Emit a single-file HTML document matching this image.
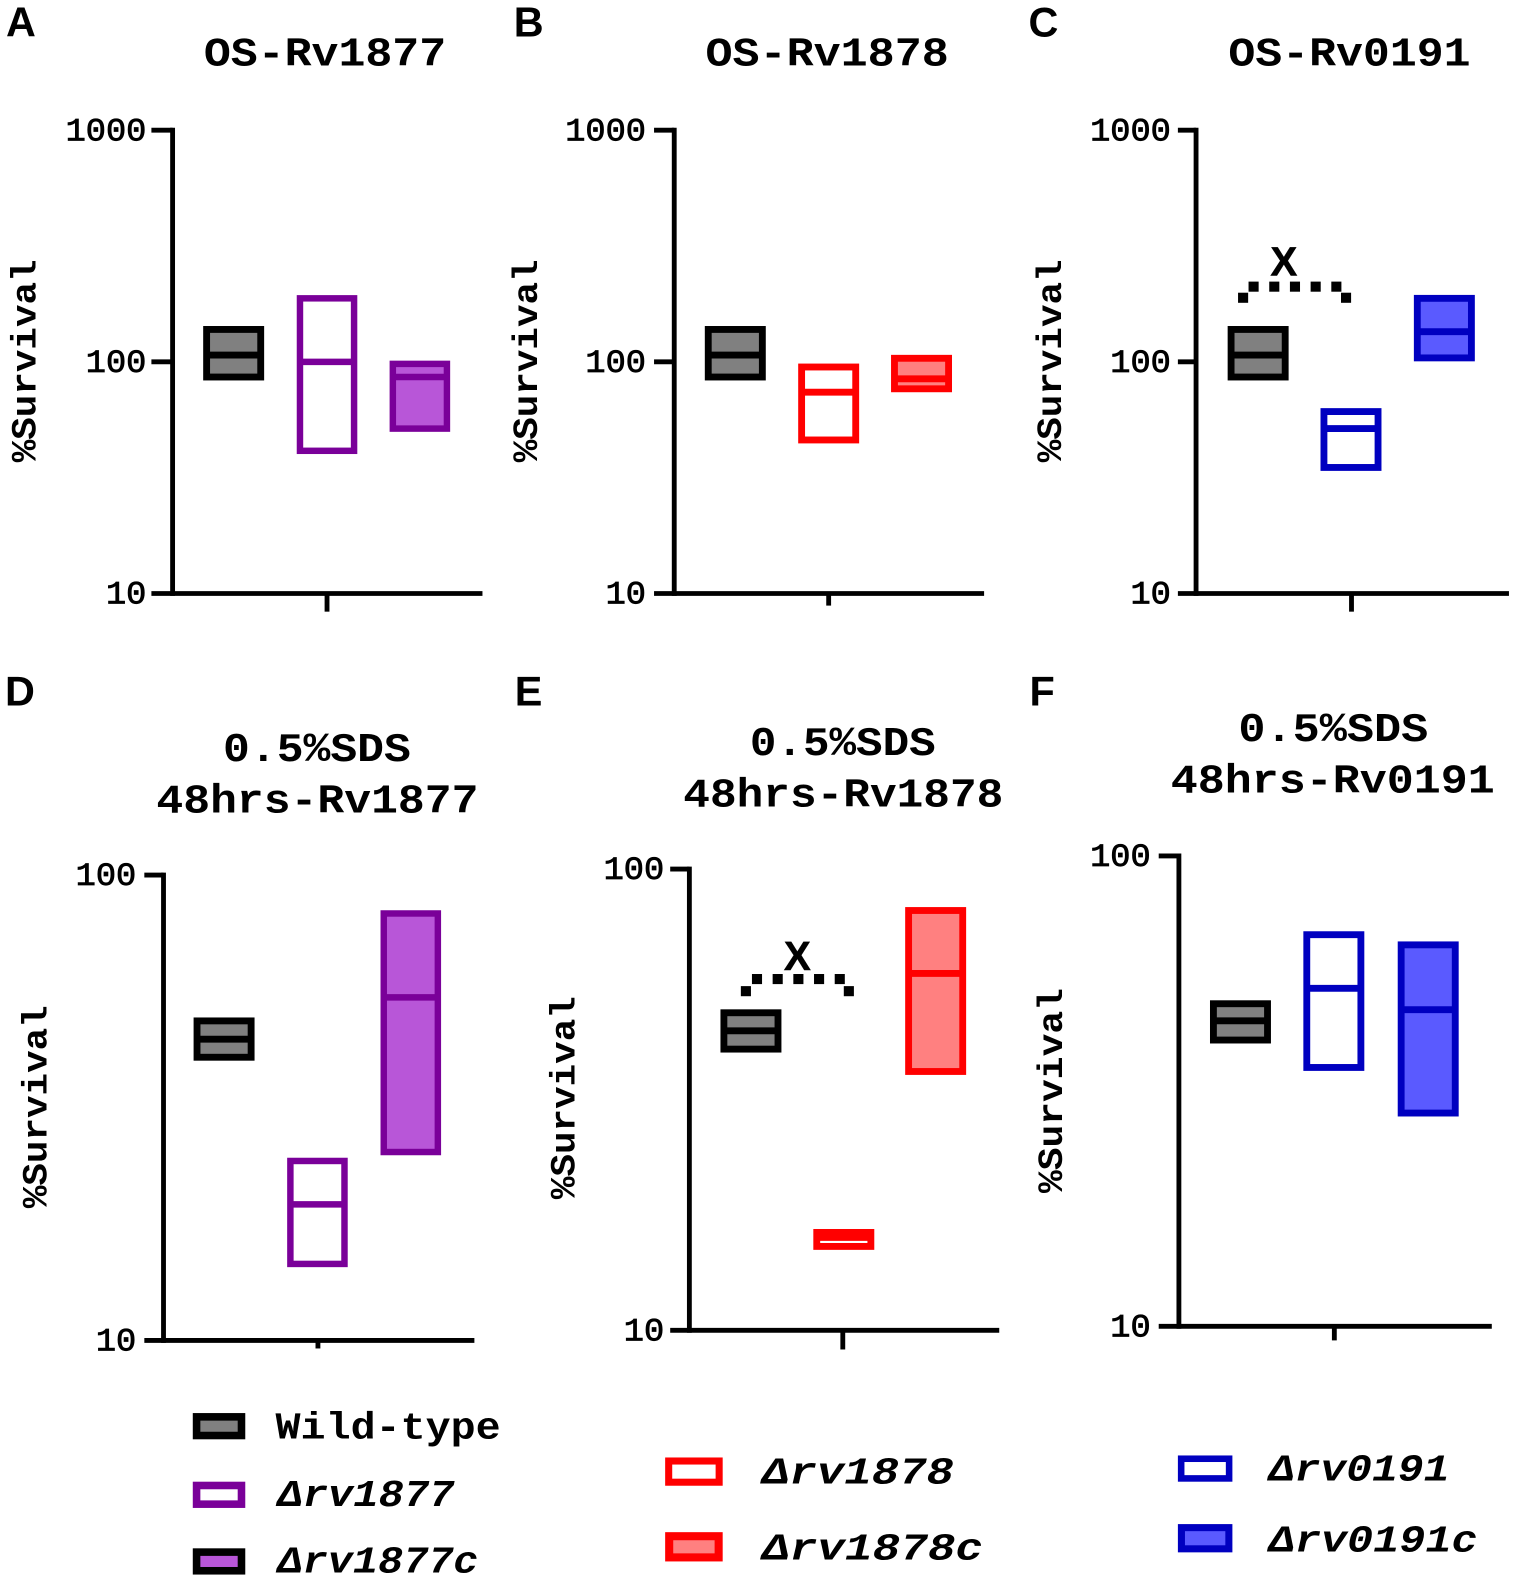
<!DOCTYPE html>
<html lang="en">
<head>
<meta charset="utf-8">
<title>Percent survival panels</title>
<style>
html,body{margin:0;padding:0;background:#fff;}
svg{display:block;}
.title{font-family:"Liberation Mono",monospace;font-weight:bold;font-size:40px;fill:#000;}
.tick{font-family:"Liberation Mono",monospace;font-weight:normal;font-size:32px;fill:#000;stroke:#000;stroke-width:0.8px;}
.ylab{font-family:"Liberation Mono",monospace;font-weight:bold;font-size:35px;fill:#000;}
.letter{font-family:"Liberation Sans",sans-serif;font-weight:bold;font-size:41px;fill:#000;}
.leg{font-family:"Liberation Mono",monospace;font-weight:bold;font-size:38px;fill:#000;}
.legi{font-family:"Liberation Mono",monospace;font-weight:bold;font-style:italic;font-size:38px;fill:#000;}
.mark{font-family:"Liberation Sans",sans-serif;font-weight:bold;font-size:40px;fill:#000;stroke:#000;stroke-width:0.5px;}
</style>
</head>
<body>
<svg id="figure" xmlns="http://www.w3.org/2000/svg" width="1514" height="1583" viewBox="0 0 1500 1568.36">
  <rect x="0" y="0" width="1500" height="1569" fill="#fff"/>

  <text class="letter" x="6" y="36">A</text>
  <text class="letter" x="509" y="36">B</text>
  <text class="letter" x="1019" y="36">C</text>
  <text class="letter" x="5" y="699">D</text>
  <text class="letter" x="510" y="699">E</text>
  <text class="letter" x="1020" y="699">F</text>

  <text class="title" x="202" y="65" textLength="240" lengthAdjust="spacingAndGlyphs">OS-Rv1877</text>
  <text class="title" x="699" y="65" textLength="241" lengthAdjust="spacingAndGlyphs">OS-Rv1878</text>
  <text class="title" x="1217" y="65" textLength="240" lengthAdjust="spacingAndGlyphs">OS-Rv0191</text>
  <text class="title" x="221" y="754" textLength="186" lengthAdjust="spacingAndGlyphs">0.5%SDS</text>
  <text class="title" x="155" y="805" textLength="319" lengthAdjust="spacingAndGlyphs">48hrs-Rv1877</text>
  <text class="title" x="743" y="748" textLength="184" lengthAdjust="spacingAndGlyphs">0.5%SDS</text>
  <text class="title" x="677" y="799" textLength="317" lengthAdjust="spacingAndGlyphs">48hrs-Rv1878</text>
  <text class="title" x="1227" y="734" textLength="188" lengthAdjust="spacingAndGlyphs">0.5%SDS</text>
  <text class="title" x="1160" y="785" textLength="321" lengthAdjust="spacingAndGlyphs">48hrs-Rv0191</text>

  <text class="ylab" transform="translate(35,458) rotate(-90)" textLength="201" lengthAdjust="spacingAndGlyphs">%Survival</text>
  <text class="ylab" transform="translate(532,458) rotate(-90)" textLength="201" lengthAdjust="spacingAndGlyphs">%Survival</text>
  <text class="ylab" transform="translate(1051,458) rotate(-90)" textLength="201" lengthAdjust="spacingAndGlyphs">%Survival</text>
  <text class="ylab" transform="translate(46,1197) rotate(-90)" textLength="201" lengthAdjust="spacingAndGlyphs">%Survival</text>
  <text class="ylab" transform="translate(569,1188) rotate(-90)" textLength="201" lengthAdjust="spacingAndGlyphs">%Survival</text>
  <text class="ylab" transform="translate(1052,1182) rotate(-90)" textLength="203" lengthAdjust="spacingAndGlyphs">%Survival</text>

  <g id="panels"></g>

  <g>
    <rect x="194.75" y="1403.75" width="44.5" height="18.5" fill="#808080" stroke="#000" stroke-width="7.5"/>
    <text class="leg" x="273" y="1425" textLength="223" lengthAdjust="spacingAndGlyphs">Wild-type</text>
    <rect x="194.75" y="1471.75" width="44.5" height="18.5" fill="#fff" stroke="#7a0099" stroke-width="7.5"/>
    <text class="legi" x="275" y="1492" textLength="175" lengthAdjust="spacingAndGlyphs">Δrv1877</text>
    <rect x="194.75" y="1537.75" width="44.5" height="18.5" fill="#b856d8" stroke="#000" stroke-width="7.5"/>
    <text class="legi" x="275" y="1558" textLength="199" lengthAdjust="spacingAndGlyphs">Δrv1877c</text>

    <rect x="662.5" y="1447.5" width="50" height="21" fill="#fff" stroke="#ff0000" stroke-width="7"/>
    <text class="legi" x="755" y="1470" textLength="190" lengthAdjust="spacingAndGlyphs">Δrv1878</text>
    <rect x="663" y="1522" width="49" height="21" fill="#ff8080" stroke="#ff0000" stroke-width="8"/>
    <text class="legi" x="755" y="1545" textLength="219" lengthAdjust="spacingAndGlyphs">Δrv1878c</text>

    <rect x="1170.25" y="1445.25" width="47.5" height="19.5" fill="#fff" stroke="#0000c0" stroke-width="6.5"/>
    <text class="legi" x="1257" y="1467" textLength="179" lengthAdjust="spacingAndGlyphs">Δrv0191</text>
    <rect x="1170.5" y="1513.5" width="47" height="21" fill="#5a5aff" stroke="#0000c0" stroke-width="7"/>
    <text class="legi" x="1257" y="1537" textLength="207" lengthAdjust="spacingAndGlyphs">Δrv0191c</text>
  </g>
</svg>

<script>
// Tick labels
const ticksOS = [10, 100, 1000];
const ticksSDS = [10, 100];

// Panel A: OS-Rv1877
const categoriesA = ['Wild-type', 'rv1877', 'rv1877c'];
const highA = [138, 188, 98];
const medianA = [107, 100, 86];
const lowA = [86, 41.3, 51.5];

// Panel B: OS-Rv1878
const categoriesB = ['Wild-type', 'rv1878', 'rv1878c'];
const highB = [138, 95, 103.6];
const medianB = [107, 74, 84.5];
const lowB = [86, 46, 76.5];

// Panel C: OS-Rv0191
const categoriesC = ['Wild-type', 'rv0191', 'rv0191c'];
const highC = [138, 61, 188];
const medianC = [107, 51.5, 135];
const lowC = [86, 35, 104];

// Panel D: 0.5% SDS 48hrs-Rv1877
const categoriesD = ['Wild-type', 'rv1877', 'rv1877c'];
const highD = [48.6, 24.3, 82.7];
const medianD = [44.4, 19.6, 54.6];
const lowD = [40.6, 14.6, 25.4];

// Panel E: 0.5% SDS 48hrs-Rv1878
const categoriesE = ['Wild-type', 'rv1878', 'rv1878c'];
const highE = [48.8, 16.3, 81.3];
const medianE = [44.6, 15.9, 59.4];
const lowE = [40.7, 15.2, 36.4];

// Panel F: 0.5% SDS 48hrs-Rv0191
const categoriesF = ['Wild-type', 'rv0191', 'rv0191c'];
const highF = [48.5, 68, 64.7];
const medianF = [44.6, 52.3, 47.1];
const lowF = [40.6, 35.5, 28.4];

const PURPLE = { stroke: '#7a0099', fill: '#b856d8', sw: 6.4 };
const RED = { stroke: '#ff0000', fill: '#ff8080', sw: 6.8 };
const BLUE = { stroke: '#0000c0', fill: '#5a5aff', sw: 6.8 };

const panels = [
  { id: 'a', cats: categoriesA, hi: highA, med: medianA, lo: lowA, ticks: ticksOS, tone: PURPLE, labelR: 145,
    axisX: 171, tickL: 150, xEnd: 478, tickX: 324, tickB: 606, top: 129, bottom: 588, centers: [231.5, 324, 416] },
  { id: 'b', cats: categoriesB, hi: highB, med: medianB, lo: lowB, ticks: ticksOS, tone: RED, labelR: 640,
    axisX: 668, tickL: 648, xEnd: 975, tickX: 821, tickB: 600, top: 129, bottom: 588, centers: [728.5, 821, 913] },
  { id: 'c', cats: categoriesC, hi: highC, med: medianC, lo: lowC, ticks: ticksOS, tone: BLUE, labelR: 1160,
    axisX: 1185, tickL: 1167, xEnd: 1495, tickX: 1339, tickB: 606, top: 129, bottom: 588, centers: [1246.5, 1338.5, 1431],
    bracket: { edgeL: 1231.6, start: 1242, gap: 20.5, edgeR: 1333.6, hiY: 284, loY: 295, labelX: 1272, labelY: 273 } },
  { id: 'd', cats: categoriesD, hi: highD, med: medianD, lo: lowD, ticks: ticksSDS, tone: PURPLE, labelR: 135,
    axisX: 162, tickL: 143, xEnd: 470, tickX: 315, tickB: 1336, top: 867, bottom: 1328, centers: [222, 314.5, 407] },
  { id: 'e', cats: categoriesE, hi: highE, med: medianE, lo: lowE, ticks: ticksSDS, tone: RED, labelR: 658,
    axisX: 683, tickL: 664, xEnd: 990, tickX: 835, tickB: 1337, top: 861, bottom: 1318, centers: [744, 836, 927],
    bracket: { edgeL: 739, start: 750, gap: 20.5, edgeR: 841, hiY: 970, loY: 982, labelX: 790, labelY: 961 } },
  { id: 'f', cats: categoriesF, hi: highF, med: medianF, lo: lowF, ticks: ticksSDS, tone: BLUE, labelR: 1140,
    axisX: 1168, tickL: 1148, xEnd: 1478, tickX: 1322, tickB: 1328, top: 848, bottom: 1314, centers: [1229, 1321.5, 1415] }
];

const SVGNS = 'http://www.w3.org/2000/svg';
const root = document.getElementById('panels');

function make(tag, parent, attrs) {
  const el = document.createElementNS(SVGNS, tag);
  Object.keys(attrs).forEach(function (k) { el.setAttribute(k, attrs[k]); });
  parent.appendChild(el);
  return el;
}

function logScale(ticks, top, bottom) {
  const lo = Math.log10(ticks[0]);
  const hi = Math.log10(ticks[ticks.length - 1]);
  return function (v) { return bottom - (Math.log10(v) - lo) * (bottom - top) / (hi - lo); };
}

panels.forEach(function (p) {
  const y = logScale(p.ticks, p.top, p.bottom);

  const g = make('g', root, {});
  
  

  const yAxis = make('line', g, { x1: p.axisX, x2: p.axisX, y1: p.top - 2.4, y2: p.bottom + 2.4, stroke: '#000', 'stroke-width': 4.8 });
  
  

  const xAxis = make('line', g, { x1: p.axisX, x2: p.xEnd, y1: p.bottom, y2: p.bottom, stroke: '#000', 'stroke-width': 4.8 });
  
  

  const xTick = make('line', g, { x1: p.tickX, x2: p.tickX, y1: p.bottom, y2: p.tickB, stroke: '#000', 'stroke-width': 4.8 });
  
  

  p.ticks.forEach(function (t) {
    const label = String(t);
    const ty = y(t);

    const tick = make('line', g, { x1: p.tickL, x2: p.axisX, y1: ty, y2: ty, stroke: '#000', 'stroke-width': 4.8 });
    
    

    const len = label.length * 20;
    const txt = make('text', g, { class: 'tick', x: p.labelR - len, y: ty + 10, textLength: len, lengthAdjust: 'spacingAndGlyphs' });
    txt.textContent = label;
    
    
  });

  p.cats.forEach(function (cat, i) {
    const isWT = i === 0;
    const color = isWT ? '#000' : p.tone.stroke;
    const fill = isWT ? '#808080' : (i === 1 ? '#ffffff' : p.tone.fill);
    const sw = isWT ? 6.8 : p.tone.sw;
    const cx = p.centers[i];
    const yh = y(p.hi[i]);
    const yl = y(p.lo[i]);
    const ym = y(p.med[i]);

    const box = make('rect', g, { x: cx - 26.8, y: yh, width: 53.6, height: yl - yh, fill: fill, stroke: color, 'stroke-width': sw });
    
    

    const med = make('line', g, { x1: cx - 26.8, x2: cx + 26.8, y1: ym, y2: ym, stroke: color, 'stroke-width': sw });
    
    
  });

  if (p.bracket) {
    const b = p.bracket;
    const dotXs = [b.edgeL];
    for (let k = 0; k < 5; k++) { dotXs.push(b.start + k * b.gap); }
    dotXs.push(b.edgeR);
    dotXs.forEach(function (dx, k) {
      const edge = k === 0 || k === 6;
      const dot = make('rect', g, { x: dx - 5, y: (edge ? b.loY : b.hiY) - 5, width: 10, height: 10, fill: '#000' });
      
      
    });
    const mark = make('text', g, { class: 'mark', x: b.labelX, y: b.labelY, 'text-anchor': 'middle' });
    mark.textContent = 'X';
    
    
  }
});
</script>
</body>
</html>
